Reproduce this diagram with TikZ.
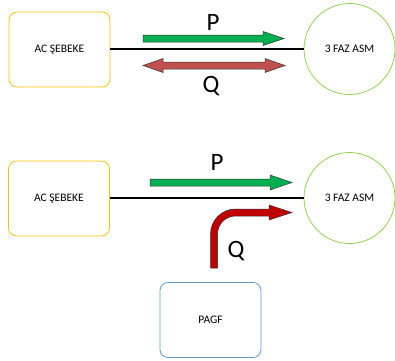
\documentclass[tikz,border=0pt]{standalone}
\usepackage{fontspec}
\setmainfont{Carlito}
\definecolor{boxyellow}{HTML}{FFC000}
\definecolor{circgreen}{HTML}{92D050}
\definecolor{boxblue}{HTML}{5B9BD5}
\definecolor{pgreen}{HTML}{00B050}
\definecolor{qred}{HTML}{C0504D}
\definecolor{qdark}{HTML}{C00000}
\begin{document}
\begin{tikzpicture}[x=1pt,y=-1pt,
  blockbox/.style={draw,line width=0.8pt,rounded corners=8pt,minimum width=101pt,minimum height=75pt,inner sep=0pt,outer sep=0pt,font=\fontsize{11.5}{13}\selectfont},
  machine/.style={circle,draw=circgreen,line width=0.8pt,minimum size=91pt,inner sep=0pt,outer sep=0pt,font=\fontsize{11.5}{13}\selectfont},
  wire/.style={line width=2pt,black},
  bigarrow/.style={draw=black!80,line width=0.5pt},
  flowlabel/.style={font=\fontsize{25}{28}\selectfont,inner sep=0pt}]
\useasboundingbox (0,0) rectangle (395,360);
% top diagram
\node[blockbox,draw=boxyellow] (ac1) at (59.5,49.5) {AC ŞEBEKE};
\node[machine] (asm1) at (349.5,49) {3 FAZ ASM};
\draw[wire] (ac1.east |- asm1.west) -- (asm1.west);
\fill[pgreen,bigarrow] (143,35) -- (263,35) -- (263,31.5) -- (284,38.5) -- (263,45.5) -- (263,42) -- (143,42) -- cycle;
\fill[qred,bigarrow] (143,65.5) -- (163,58.5) -- (163,62) -- (265,62) -- (265,58.5) -- (285,65.5) -- (265,72.5) -- (265,69) -- (163,69) -- (163,72.5) -- cycle;
\node[flowlabel] (p1) at (213,22) {P};
\node[flowlabel] (q1) at (211,86) {Q};
% bottom diagram
\node[blockbox,draw=boxyellow] (ac2) at (59,198.5) {AC ŞEBEKE};
\node[machine] (asm2) at (349.5,198) {3 FAZ ASM};
\draw[wire] (ac2.east |- asm2.west) -- (asm2.west);
\node[blockbox,draw=boxblue] (pagf) at (210.5,320) {PAGF};
\fill[pgreen,bigarrow] (150,179) -- (270,179) -- (270,175) -- (292,182.5) -- (270,190) -- (270,186) -- (150,186) -- cycle;
\fill[qdark,bigarrow] (210.5,268) -- (210.5,234) .. controls (210.5,220.2) and (221.7,209) .. (235.5,209) -- (269,209) -- (269,205) -- (292,212.5) -- (269,220) -- (269,216) -- (235.5,216) .. controls (225.6,216) and (217.5,224.1) .. (217.5,234) -- (217.5,268) -- cycle;
\node[flowlabel] (p2) at (217,162) {P};
\node[flowlabel] (q2) at (236,251) {Q};
\end{tikzpicture}
\end{document}
